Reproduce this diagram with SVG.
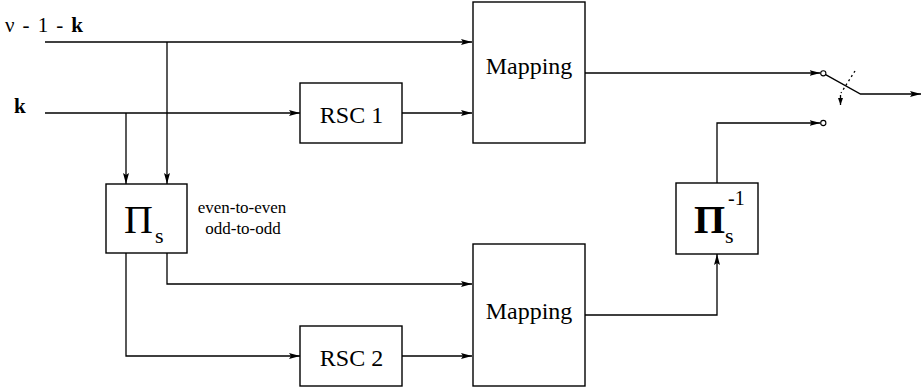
<svg xmlns="http://www.w3.org/2000/svg" width="922" height="390" viewBox="0 0 922 390">
<defs>
<marker id="ah" markerWidth="12" markerHeight="8" refX="11" refY="4" orient="auto" markerUnits="userSpaceOnUse">
<path d="M0,1 L11,4 L0,7 L2,4 z" fill="#000"/>
</marker>
<marker id="ahs" markerWidth="8" markerHeight="10" refX="7" refY="3" orient="auto" markerUnits="userSpaceOnUse">
<path d="M0,0.5 L7,3 L0,5.5 z" fill="#000"/>
</marker>
</defs>
<style>
.box{fill:#fff;stroke:#000;stroke-width:1.4}
.ln{fill:none;stroke:#000;stroke-width:1.3}
.t{font-family:"Liberation Serif","Times New Roman",serif;fill:#000}
</style>
<rect width="922" height="390" fill="#fff"/>
<g id="connectors">
<path class="ln" d="M45,42 H472" marker-end="url(#ah)"/>
<path class="ln" d="M167,42 V184" marker-end="url(#ah)"/>
<path class="ln" d="M45,113 H300" marker-end="url(#ah)"/>
<path class="ln" d="M126,113 V184" marker-end="url(#ah)"/>
<path class="ln" d="M402,113 H472" marker-end="url(#ah)"/>
<path class="ln" d="M167,253 V284 H472" marker-end="url(#ah)"/>
<path class="ln" d="M126,253 V356 H300" marker-end="url(#ah)"/>
<path class="ln" d="M402,356 H472" marker-end="url(#ah)"/>
<path class="ln" d="M585,315 H717 V254" marker-end="url(#ah)"/>
<path class="ln" d="M717,183 V123 H820.5" marker-end="url(#ah)"/>
<path class="ln" d="M585,73 H820.5" marker-end="url(#ah)"/>
<circle cx="823.3" cy="73.3" r="2.6" fill="#fff" stroke="#000" stroke-width="1.1"/>
<circle cx="823.3" cy="123" r="2.6" fill="#fff" stroke="#000" stroke-width="1.1"/>
<path class="ln" d="M825.6,74.6 L860.5,94 H921" marker-end="url(#ah)"/>
<path class="ln" d="M855,71 L841,93" stroke-dasharray="2,3"/>
<path class="ln" d="M840.5,95 V105" marker-end="url(#ahs)"/>
</g>
<g id="mapping1">
<rect class="box" x="473" y="2" width="112" height="141"/>
<text class="t" x="529" y="74" font-size="24" text-anchor="middle">Mapping</text>
</g>
<g id="rsc1">
<rect class="box" x="300" y="83" width="102" height="60"/>
<text class="t" x="351.5" y="123" font-size="24" text-anchor="middle">RSC 1</text>
</g>
<g id="pi">
<rect class="box" x="106" y="184" width="81" height="69"/>
<text class="t" x="138.5" y="233" font-size="40" text-anchor="middle">Π</text>
<text class="t" x="155" y="243" font-size="22">s</text>
</g>
<g id="mapping2">
<rect class="box" x="473" y="244" width="112" height="142"/>
<text class="t" x="529" y="319" font-size="24" text-anchor="middle">Mapping</text>
</g>
<g id="rsc2">
<rect class="box" x="300" y="326" width="102" height="60"/>
<text class="t" x="351.5" y="366" font-size="24" text-anchor="middle">RSC 2</text>
</g>
<g id="piinv">
<rect class="box" x="676" y="183" width="82" height="71"/>
<text class="t" x="709.5" y="233" font-size="40" font-weight="bold" text-anchor="middle">Π</text>
<text class="t" x="725" y="243" font-size="22">s</text>
<text class="t" x="728" y="205" font-size="20">-1</text>
</g>
<g id="labels">
<text class="t" x="5" y="32" font-size="21" textLength="78" lengthAdjust="spacing">ν - 1 - <tspan font-weight="bold">k</tspan></text>
<text class="t" x="14" y="113" font-size="21" font-weight="bold">k</text>
<text class="t" x="242" y="213" font-size="17" text-anchor="middle">even-to-even</text>
<text class="t" x="243" y="234" font-size="17" text-anchor="middle">odd-to-odd</text>
</g>
</svg>
